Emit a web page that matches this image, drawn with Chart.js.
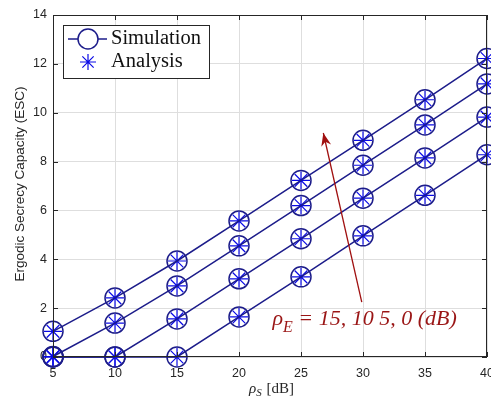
<!DOCTYPE html>
<html>
<head>
<meta charset="utf-8">
<script src="https://cdn.jsdelivr.net/npm/chart.js@4"></script>
<style>
html,body{margin:0;padding:0;background:#fff;}
#wrap{width:491px;height:401px;position:relative;}
</style>
</head>
<body>
<div id="wrap"><canvas id="c" width="491" height="401"></canvas></div>
<script>
// ---- data ----
const rhoS = [5, 10, 15, 20, 25, 30, 35, 40];
const escE15 = [1.05, 2.42, 3.93, 5.57, 7.23, 8.87, 10.53, 12.22];
const escE10 = [0.02, 1.39, 2.91, 4.55, 6.20, 7.85, 9.50, 11.18];
const escE5  = [0.00, 0.00, 1.56, 3.20, 4.84, 6.50, 8.15, 9.82];
const escE0  = [0.00, 0.00, 0.00, 1.64, 3.28, 4.96, 6.62, 8.28];
const xTicks = [5, 10, 15, 20, 25, 30, 35, 40];
const yTicks = [0, 2, 4, 6, 8, 10, 12, 14];
const legendLabels = ['Simulation', 'Analysis'];
const annotationText = ' = 15, 10 5, 0 (dB)';

const NAVY = '#1c1c8a';
const BLUE = '#0a0ae6';
const series = [escE15, escE10, escE5, escE0];

const datasets = [];
series.forEach(s => {
  datasets.push({
    label: 'Simulation',
    data: rhoS.map((x, i) => ({x: x, y: s[i]})),
    borderColor: NAVY, backgroundColor: 'rgba(0,0,0,0)',
    borderWidth: 1.5, pointStyle: 'circle', pointRadius: 10,
    pointBorderWidth: 1.5, pointBorderColor: NAVY, pointBackgroundColor: 'rgba(0,0,0,0)',
    showLine: true, tension: 0, clip: false
  });
  datasets.push({
    label: 'Analysis',
    data: rhoS.map((x, i) => ({x: x, y: s[i]})),
    borderColor: BLUE, backgroundColor: 'rgba(0,0,0,0)',
    pointStyle: 'star', pointRadius: 9, pointBorderWidth: 1.2,
    pointBorderColor: BLUE, showLine: false, clip: false
  });
});

const overlay = {
  id: 'overlay',
  afterDraw(chart) {
    const ctx = chart.ctx;
    const xs = chart.scales.x, ys = chart.scales.y;
    const a = chart.chartArea;
    ctx.save();
    // box
    ctx.strokeStyle = '#262626';
    ctx.lineWidth = 1;
    ctx.strokeRect(a.left + 0.5, a.top + 0.5, a.right - a.left - 1, a.bottom - a.top - 1);
    // inner ticks
    ctx.beginPath();
    xTicks.forEach(t => {
      const px = Math.round(xs.getPixelForValue(t)) + 0.5;
      ctx.moveTo(px, a.top); ctx.lineTo(px, a.top + 5);
      ctx.moveTo(px, a.bottom); ctx.lineTo(px, a.bottom - 5);
    });
    yTicks.forEach(t => {
      const py = Math.round(ys.getPixelForValue(t)) + 0.5;
      ctx.moveTo(a.left, py); ctx.lineTo(a.left + 5, py);
      ctx.moveTo(a.right, py); ctx.lineTo(a.right - 5, py);
    });
    ctx.stroke();

    // legend
    const lx = 63, ly = 25, lw = 146, lh = 53;
    ctx.fillStyle = '#fff';
    ctx.fillRect(lx, ly, lw, lh);
    ctx.strokeStyle = '#262626';
    ctx.lineWidth = 1;
    ctx.strokeRect(lx + 0.5, ly + 0.5, lw, lh);
    // simulation sample
    ctx.strokeStyle = NAVY; ctx.lineWidth = 1.5;
    ctx.beginPath(); ctx.moveTo(68, 39); ctx.lineTo(107, 39); ctx.stroke();
    ctx.fillStyle = '#fff';
    ctx.beginPath(); ctx.arc(88, 39, 10, 0, Math.PI * 2); ctx.fill(); ctx.stroke();
    // analysis sample (star)
    ctx.strokeStyle = BLUE; ctx.lineWidth = 1.2;
    ctx.beginPath();
    const r = 8, cx = 88, cy = 62;
    for (let k = 0; k < 4; k++) {
      const ang = k * Math.PI / 4;
      ctx.moveTo(cx + r * Math.cos(ang), cy + r * Math.sin(ang));
      ctx.lineTo(cx - r * Math.cos(ang), cy - r * Math.sin(ang));
    }
    ctx.stroke();
    ctx.fillStyle = '#111';
    ctx.font = '20.5px "Liberation Serif", "DejaVu Serif", serif';
    ctx.textBaseline = 'middle';
    ctx.textAlign = 'left';
    ctx.fillText(legendLabels[0], 111, 39);
    ctx.fillText(legendLabels[1], 111, 62);

    // annotation arrow
    const ax0 = xs.getPixelForValue(29.9), ay0 = ys.getPixelForValue(2.25);
    const ax1 = xs.getPixelForValue(26.8), ay1 = ys.getPixelForValue(9.17);
    ctx.strokeStyle = '#a01010'; ctx.fillStyle = '#a01010'; ctx.lineWidth = 1.3;
    ctx.beginPath(); ctx.moveTo(ax0, ay0); ctx.lineTo(ax1, ay1); ctx.stroke();
    const ang = Math.atan2(ay1 - ay0, ax1 - ax0);
    const hl = 13, hw = 5;
    ctx.beginPath();
    ctx.moveTo(ax1, ay1);
    ctx.lineTo(ax1 - hl * Math.cos(ang) + hw * Math.sin(ang), ay1 - hl * Math.sin(ang) - hw * Math.cos(ang));
    ctx.lineTo(ax1 - hl * 0.7 * Math.cos(ang), ay1 - hl * 0.7 * Math.sin(ang));
    ctx.lineTo(ax1 - hl * Math.cos(ang) - hw * Math.sin(ang), ay1 - hl * Math.sin(ang) + hw * Math.cos(ang));
    ctx.closePath(); ctx.fill();

    // annotation text
    const tx = xs.getPixelForValue(22.7), ty = ys.getPixelForValue(1.3);
    ctx.fillStyle = '#9a1515';
    ctx.textBaseline = 'alphabetic';
    ctx.font = 'italic 22px "Liberation Serif", "DejaVu Serif", serif';
    ctx.fillText('\u03C1', tx, ty);
    let w = ctx.measureText('\u03C1').width;
    ctx.font = 'italic 16px "Liberation Serif", "DejaVu Serif", serif';
    ctx.fillText('E', tx + w, ty + 7);
    let w2 = ctx.measureText('E').width;
    ctx.font = 'italic 22px "Liberation Serif", "DejaVu Serif", serif';
    ctx.fillText(annotationText, tx + w + w2, ty);

    // x title
    ctx.fillStyle = '#262626';
    ctx.font = 'italic 15px "Liberation Serif", "DejaVu Serif", serif';
    const xt = 249, yt = 393;
    ctx.fillText('\u03C1', xt, yt);
    let w3 = ctx.measureText('\u03C1').width;
    ctx.font = 'italic 11px "Liberation Serif", "DejaVu Serif", serif';
    ctx.fillText('S', xt + w3, yt + 3);
    let w4 = ctx.measureText('S').width;
    ctx.font = '15px "Liberation Serif", "DejaVu Serif", serif';
    ctx.fillText(' [dB]', xt + w3 + w4 + 1, yt);

    // y title
    ctx.save();
    ctx.translate(20, 184);
    ctx.rotate(-Math.PI / 2);
    ctx.textAlign = 'center';
    ctx.textBaseline = 'middle';
    ctx.font = '13.5px "Liberation Sans", Arial, sans-serif';
    ctx.fillStyle = '#262626';
    ctx.fillText('Ergodic Secrecy Capacity (ESC)', 0, 0);
    ctx.restore();

    ctx.restore();
  }
};

new Chart(document.getElementById('c'), {
  type: 'scatter',
  data: { datasets: datasets },
  options: {
    responsive: false,
    animation: false,
    devicePixelRatio: 1,
    layout: { autoPadding: false, padding: { top: 15, right: 4, left: 0, bottom: 0 } },
    plugins: { legend: { display: false }, tooltip: { enabled: false } },
    scales: {
      x: {
        type: 'linear', min: 5, max: 40,
        afterBuildTicks(s) { s.ticks = xTicks.map(v => ({value: v})); },
        afterFit(s) { s.height = 44; s.paddingLeft = 0; s.paddingRight = 0; },
        grid: { color: '#dedede', lineWidth: 1, drawTicks: false },
        border: { display: false },
        ticks: { color: '#262626', padding: 9, maxRotation: 0, autoSkip: false,
                 font: { family: '"Liberation Sans", Arial, sans-serif', size: 12.5 } }
      },
      y: {
        type: 'linear', min: 0, max: 14,
        afterBuildTicks(s) { s.ticks = yTicks.map(v => ({value: v})); },
        afterFit(s) { s.width = 53; s.paddingTop = 0; s.paddingBottom = 0; },
        grid: { color: '#dedede', lineWidth: 1, drawTicks: false },
        border: { display: false },
        ticks: { color: '#262626', padding: 6, autoSkip: false,
                 font: { family: '"Liberation Sans", Arial, sans-serif', size: 12.5 } }
      }
    }
  },
  plugins: [overlay]
});
</script>
</body>
</html>
